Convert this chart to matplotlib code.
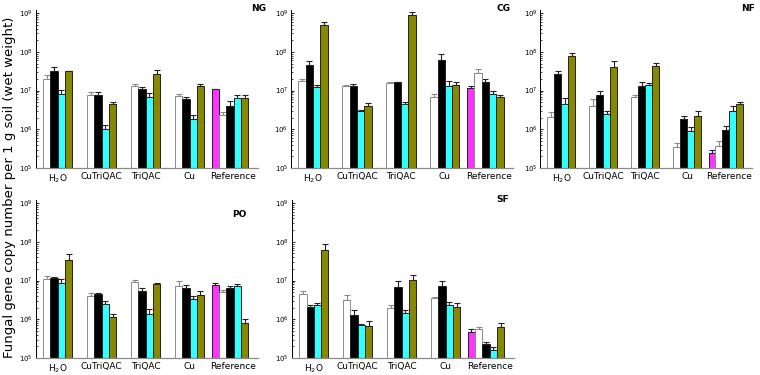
import numpy as np
import matplotlib.pyplot as plt

groups = ["H$_2$O", "CuTriQAC", "TriQAC", "Cu", "Reference"]
panels = ["NG", "CG", "NF", "PO", "SF"]

# bar values per panel: rows = groups, cols = white, black, cyan, olive
# Reference group has an extra first (magenta) bar
NG_vals = [[2.0e7, 3.2e7, 8.1e6, 3.2e7], [7.6e6, 7.9e6, 1.03e6, 4.6e6], [1.33e7, 1.1e7, 6.7e6, 2.7e7],
           [7.1e6, 6.0e6, 1.8e6, 1.3e7], [1.1e7, 2.3e6, 3.9e6, 6.4e6, 6.4e6]]
NG_err = [[5.6e6, 7.6e6, 2.4e6, 1.0e6], [1.5e6, 1.2e6, 2.8e5, 3.6e5], [1.4e6, 1.3e6, 1.9e6, 7.7e6],
          [1.0e6, 8.0e5, 5.8e5, 1.7e6], [3.0e5, 5.0e5, 1.6e6, 1.4e6, 1.1e6]]
CG_vals = [[1.8e7, 4.5e7, 1.23e7, 5.0e8], [1.28e7, 1.28e7, 3.0e6, 4.1e6], [1.56e7, 1.63e7, 4.5e6, 9.06e8],
           [6.7e6, 6.0e7, 1.28e7, 1.41e7], [1.16e7, 2.8e7, 1.63e7, 8.1e6, 6.8e6]]
CG_err = [[2.0e6, 1.2e7, 1.3e6, 9.0e7], [8.0e5, 2.2e6, 2.0e5, 6.5e5], [6.0e5, 7.0e5, 7.0e5, 1.5e8],
          [1.4e6, 2.9e7, 5.0e6, 2.4e6], [1.7e6, 8.5e6, 3.5e6, 1.8e6, 1.0e6]]
NF_vals = [[2.07e6, 2.7e7, 4.5e6, 7.9e7], [4.1e6, 7.5e6, 2.48e6, 4.0e7], [6.8e6, 1.33e7, 1.36e7, 4.4e7],
           [3.4e5, 1.87e6, 9.2e5, 2.15e6], [2.44e5, 3.6e5, 9.8e5, 2.9e6, 4.5e6]]
NF_err = [[8.0e5, 5.5e6, 2.1e6, 1.4e7], [2.1e6, 2.5e6, 5.0e5, 1.9e7], [1.0e6, 3.2e6, 2.0e6, 7.0e6],
          [1.0e5, 3.7e5, 2.2e5, 7.5e5], [4.0e4, 1.5e5, 2.1e5, 1.0e6, 5.0e5]]
PO_vals = [[1.11e7, 1.16e7, 8.6e6, 3.3e7], [4.06e6, 4.5e6, 2.48e6, 1.14e6], [9.1e6, 5.5e6, 1.39e6, 8.3e6],
           [7.4e6, 6.4e6, 3.33e6, 4.14e6], [7.5e6, 5.0e6, 6.4e6, 7.1e6, 8.0e5]]
PO_err = [[1.7e6, 5.0e5, 2.3e6, 1.5e7], [7.0e5, 3.0e5, 4.2e5, 2.2e5], [1.4e6, 9.0e5, 4.5e5, 3.0e5],
          [2.5e6, 1.4e6, 7.0e5, 1.1e6], [1.1e6, 8.0e5, 1.0e6, 1.2e6, 2.1e5]]
SF_vals = [[4.5e6, 2.1e6, 2.37e6, 6.3e7], [3.13e6, 1.3e6, 7.1e5, 6.7e5], [2.0e6, 6.7e6, 1.43e6, 1.06e7],
           [3.5e6, 7.4e6, 2.37e6, 2.14e6], [4.8e5, 5.7e5, 2.3e5, 1.58e5, 6.4e5]]
SF_err = [[1.0e6, 2.0e5, 2.0e5, 2.2e7], [1.1e6, 4.2e5, 6.0e4, 2.4e5], [3.0e5, 2.9e6, 2.9e5, 3.4e6],
          [2.0e5, 2.6e6, 5.0e5, 4.6e5], [7.0e4, 6.0e4, 3.0e4, 3.6e4, 1.5e5]]

all_vals = [NG_vals, CG_vals, NF_vals, PO_vals, SF_vals]
all_err = [NG_err, CG_err, NF_err, PO_err, SF_err]

colors4 = ["white", "black", "#33ffff", "#878700"]
colors5 = ["#ff33ff"] + colors4

# axes boxes [left, bottom, width, height] in figure fraction
boxes = [[0.047, 0.552, 0.292, 0.421], [0.383, 0.552, 0.292, 0.421], [0.711, 0.552, 0.279, 0.421],
         [0.047, 0.045, 0.292, 0.422], [0.384, 0.045, 0.292, 0.422]]
label_pos = [(1.04, 1.01), (0.99, 1.01), (1.01, 1.01), (0.95, 0.905), (0.98, 1.0)]

w = 0.166
fig = plt.figure(figsize=(7.6, 3.75), dpi=100)

for k in range(5):
    ax = fig.add_axes(boxes[k])
    for g in range(5):
        vals = all_vals[k][g]
        errs = all_err[k][g]
        n = len(vals)
        cols = colors5 if n == 5 else colors4
        center = g if n == 4 else g - 0.08
        xs = center + (np.arange(n) - (n - 1) / 2) * w
        for x, v, e, c in zip(xs, vals, errs, cols):
            ec = "#8a8a8a" if c == "white" else "#222222"
            ax.bar(x, v - 1e5, width=w, bottom=1e5, color=c, edgecolor=ec, linewidth=0.7, zorder=2)
            ax.errorbar(x, v, yerr=[[0], [e]], color=ec, capsize=2, elinewidth=0.8,
                        capthick=0.8, zorder=1)
    ax.set_yscale("log")
    ax.set_ylim(1e5, 1.2e9)
    ax.set_xlim(-0.5, 4.55)
    ax.set_yticks([1e5, 1e6, 1e7, 1e8, 1e9])
    ax.set_xticks(range(5))
    ax.set_xticklabels(groups, fontsize=6.5)
    ax.tick_params(axis="x", length=0, pad=3)
    ax.tick_params(axis="y", which="major", labelsize=5, length=2.5, width=0.6, direction="in", pad=2)
    ax.tick_params(axis="y", which="minor", length=1.5, width=0.5, direction="in")
    ax.spines["top"].set_visible(False)
    ax.spines["right"].set_visible(False)
    ax.spines["left"].set_linewidth(0.7)
    ax.spines["bottom"].set_color("#8a8a8a")
    ax.spines["bottom"].set_linewidth(0.9)
    ax.set_facecolor("none")
    ax.text(label_pos[k][0], label_pos[k][1], panels[k], transform=ax.transAxes,
            ha="right", va="center", fontsize=6.5, fontweight="bold")

fig.text(0.012, 0.5, "Fungal gene copy number per 1 g soil (wet weight)", rotation=90,
         ha="center", va="center", fontsize=9.5)

plt.savefig("out.png", dpi=100)
